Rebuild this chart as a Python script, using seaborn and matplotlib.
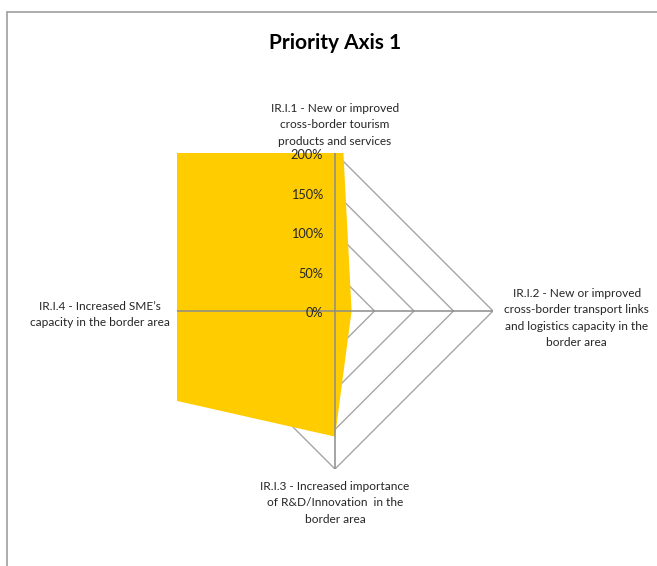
import numpy as np
import pandas as pd
import matplotlib
matplotlib.use("Agg")
import matplotlib.pyplot as plt
from matplotlib.lines import Line2D
import seaborn as sns

# Result indicators (axes of the radar, clockwise from the top)
categories = [
    "IR.I.1 - New or improved\ncross-border tourism\nproducts and services",
    "IR.I.2 - New or improved\ncross-border transport links\nand logistics capacity in the\nborder area",
    "IR.I.3 - Increased importance\nof R&D/Innovation  in the\nborder area",
    "IR.I.4 - Increased SME\u2019s\ncapacity in the border area",
]
# Achievement ratio per indicator (1.0 = 100%)
values = [4.06, 0.21, 1.59, 7.04]
# Radial scale
ring_levels = [0.5, 1.0, 1.5, 2.0]
tick_values = [0.0, 0.5, 1.0, 1.5, 2.0]
tick_labels = ["0%", "50%", "100%", "150%", "200%"]
title = "Priority Axis 1"

sns.set_theme(style="white")
plt.rcParams["font.family"] = ["Lato", "DejaVu Sans"]

W, H = 657, 566
fig = plt.figure(figsize=(W / 100, H / 100), dpi=100)
fig.patch.set_facecolor("white")

# Plot area: square around the radar, centred at (335, 311) px, radius 158 px
cx, cy, rad = 335, 311, 158
ax = fig.add_axes([(cx - rad) / W, 1 - (cy + rad) / H, 2 * rad / W, 2 * rad / H])
rmax = ring_levels[-1]
ax.set_xlim(-rmax, rmax)
ax.set_ylim(-rmax, rmax)
ax.set_axis_off()

n = len(categories)
angles = np.pi / 2 - 2 * np.pi * np.arange(n) / n  # clockwise from top
ux, uy = np.cos(angles), np.sin(angles)

grid_col = "#A6A6A6"
spoke_col = "#8C8C8C"
fill_col = "#FFCC00"

# Grid rings (diamonds) drawn beneath the series
for lvl in ring_levels:
    ring = pd.DataFrame({
        "x": np.append(ux * lvl, ux[0] * lvl),
        "y": np.append(uy * lvl, uy[0] * lvl),
    })
    sns.lineplot(data=ring, x="x", y="y", sort=False, estimator=None,
                 color=grid_col, linewidth=1.0, ax=ax, zorder=1)

# Filled series, clipped to the plot area
vals = np.array(values)
ax.fill(ux * vals, uy * vals, color=fill_col, linewidth=0, zorder=2)

# Spokes on top of the fill
for i in range(n):
    ax.plot([0, ux[i] * rmax], [0, uy[i] * rmax], color=spoke_col,
            linewidth=1.1, zorder=3, solid_capstyle="butt")

ax.set_xlabel("")
ax.set_ylabel("")

# Radial tick labels along the vertical axis
for v, lab in zip(tick_values, tick_labels):
    ax.text(-0.15, v - 0.03, lab, ha="right", va="center", fontsize=9.2,
            color="#262626", zorder=4, clip_on=False)

# Category labels
txt_kw = dict(fontsize=8.6, color="#262626", linespacing=1.6,
              ha="center", clip_on=False)
ax.text(0, rmax + 0.08, categories[0], va="bottom", **txt_kw)
ax.text(3.06, 0.29, categories[1], va="top", **txt_kw)
ax.text(0, -rmax - 0.15, categories[2], va="top", **txt_kw)
ax.text(-2.97, 0.13, categories[3], va="top", **txt_kw)

# Title
fig.text(cx / W, 1 - 43 / H, title, ha="center", va="center",
         fontsize=15, fontweight="bold", color="#000000")

# Chart frame
frame_col = "#A6A6A6"
fig.add_artist(Line2D([7 / W, 1], [1 - 12 / H, 1 - 12 / H], color=frame_col, linewidth=1.3))
fig.add_artist(Line2D([7 / W, 7 / W], [0, 1 - 12 / H], color=frame_col, linewidth=1.3))

fig.savefig("out.png", dpi=100, facecolor="white")
